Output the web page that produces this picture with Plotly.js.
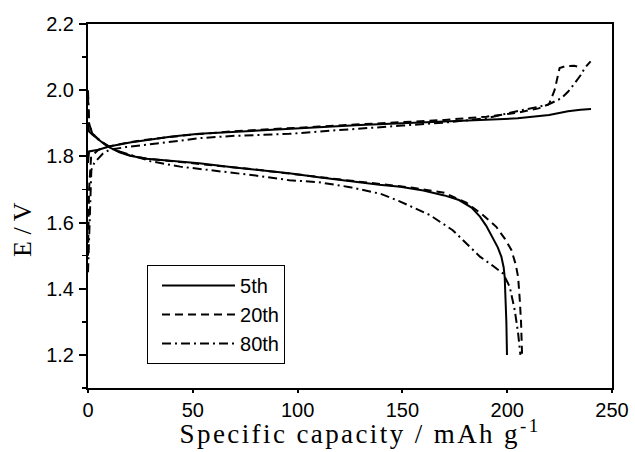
<!DOCTYPE html>
<html>
<head>
<meta charset="utf-8">
<script src="https://cdn.plot.ly/plotly-3.0.1.min.js"></script>
<style>
html, body { margin: 0; padding: 0; background: #fff; }
#chart { width: 635px; height: 452px; }
g.annotation[data-index="0"] text { letter-spacing: 2.4px; }
</style>
</head>
<body>
<div id="chart"></div>
<script>
// Series names
var seriesNames = ["5th", "20th", "80th"];

// 5th cycle: discharge then charge (null separates the two branches)
var cap5Discharge = [0, 0.5, 2, 5, 8, 11, 15, 20, 28, 35, 44, 53, 70, 85, 96, 110, 125, 139, 149, 160, 170, 177, 183, 187, 190, 193, 195.5, 197.2, 198.3, 198.8, 199.3, 199.6, 199.9];
var volt5Discharge = [1.90, 1.875, 1.866, 1.85, 1.836, 1.825, 1.812, 1.802, 1.793, 1.789, 1.784, 1.779, 1.766, 1.756, 1.749, 1.737, 1.724, 1.714, 1.708, 1.697, 1.682, 1.668, 1.645, 1.618, 1.59, 1.557, 1.525, 1.497, 1.465, 1.436, 1.366, 1.30, 1.20];
var cap5Charge = [0, 0.5, 5, 10, 20, 28, 40, 53, 70, 90, 108, 130, 150, 170, 188, 205, 220, 229, 235, 240];
var volt5Charge = [1.78, 1.815, 1.82, 1.83, 1.842, 1.85, 1.86, 1.868, 1.874, 1.882, 1.888, 1.895, 1.90, 1.905, 1.91, 1.915, 1.925, 1.936, 1.941, 1.943];

// 20th cycle
var cap20Discharge = [0, 0.5, 2, 5, 10, 15, 20, 28, 44, 60, 80, 100, 120, 140, 155, 170, 180.5, 188, 194.8, 199, 202, 204, 205.2, 206, 206.6, 207.1];
var volt20Discharge = [1.98, 1.90, 1.87, 1.852, 1.828, 1.814, 1.803, 1.793, 1.783, 1.773, 1.76, 1.745, 1.73, 1.715, 1.705, 1.69, 1.66, 1.625, 1.587, 1.55, 1.517, 1.475, 1.436, 1.366, 1.30, 1.20];
var cap20Charge = [0, 0.5, 1.5, 5, 10, 20, 30, 50, 70, 90, 110, 130, 150, 170, 190, 205, 215, 220, 222.6, 224, 225, 228, 232, 235.4];
var volt20Charge = [1.50, 1.70, 1.80, 1.82, 1.83, 1.843, 1.852, 1.866, 1.876, 1.884, 1.89, 1.897, 1.903, 1.91, 1.92, 1.932, 1.945, 1.958, 2.00, 2.04, 2.067, 2.073, 2.074, 2.068];

// 80th cycle
var cap80Discharge = [0, 0.5, 2, 5, 10, 15, 20, 30, 44, 60, 80, 96, 110, 125, 140, 148.7, 163, 174, 187, 193, 198, 201.2, 203.6, 205.2, 206.3];
var volt80Discharge = [2.00, 1.90, 1.87, 1.85, 1.83, 1.815, 1.805, 1.785, 1.769, 1.758, 1.742, 1.728, 1.722, 1.707, 1.686, 1.664, 1.623, 1.577, 1.497, 1.47, 1.446, 1.406, 1.335, 1.266, 1.20];
var cap80Charge = [0, 0.8, 1.6, 3, 4.8, 7, 10.4, 18, 27.8, 40, 53.3, 70, 96, 110, 130, 150, 170, 190, 203.6, 212, 219.4, 225.9, 229, 232.2, 235, 237, 239.8];
var volt80Charge = [1.45, 1.62, 1.759, 1.78, 1.794, 1.808, 1.82, 1.828, 1.835, 1.845, 1.855, 1.862, 1.868, 1.875, 1.885, 1.893, 1.902, 1.915, 1.935, 1.945, 1.956, 1.976, 1.995, 2.021, 2.045, 2.067, 2.087];

// Axis ticks
var xTickVals = [0, 50, 100, 150, 200, 250];
var yTickVals = [1.2, 1.4, 1.6, 1.8, 2.0, 2.2];
var yTickText = ["1.2", "1.4", "1.6", "1.8", "2.0", "2.2"];

function join(a, b) { return a.concat([null], b); }

var dashes = ["solid", "8px,5px", "9px,4px,2px,4px"];
var xs = [join(cap5Discharge, cap5Charge), join(cap20Discharge, cap20Charge), join(cap80Discharge, cap80Charge)];
var ys = [join(volt5Discharge, volt5Charge), join(volt20Discharge, volt20Charge), join(volt80Discharge, volt80Charge)];

var traces = seriesNames.map(function (n, i) {
  return {
    x: xs[i], y: ys[i], name: n, type: "scatter", mode: "lines",
    connectgaps: false,
    line: { color: "#000", width: 2, dash: dashes[i] }
  };
});

var tickFont = { family: "Liberation Sans, Arial, sans-serif", size: 20, color: "#000" };

var layout = {
  width: 635, height: 452,
  margin: { l: 88, r: 23, t: 24, b: 64, pad: 0 },
  paper_bgcolor: "#fff", plot_bgcolor: "#fff",
  showlegend: true,
  legend: {
    x: 0.1126, y: 0.338, xanchor: "left", yanchor: "top",
    bgcolor: "#fff", bordercolor: "#000", borderwidth: 1,
    font: { family: "Liberation Sans, Arial, sans-serif", size: 20, color: "#000" },
    tracegroupgap: 0, itemwidth: 73, indentation: 9
  },
  xaxis: {
    range: [0, 250], tickvals: xTickVals, ticks: "outside", ticklen: 3, tickwidth: 2,
    tickcolor: "#000", showline: true, linecolor: "#000", linewidth: 2, mirror: true,
    showgrid: false, zeroline: false, tickfont: tickFont
  },
  xaxis2: {
    overlaying: "x", anchor: "y", side: "bottom",
    range: [0, 250], tickvals: xTickVals, ticks: "outside", ticklen: 7, tickwidth: 2,
    tickcolor: "#000", showline: false, showticklabels: false,
    showgrid: false, zeroline: false,
    minor: { dtick: 25, ticks: "outside", ticklen: 4, tickwidth: 1.5, tickcolor: "#000", showgrid: false }
  },
  yaxis: {
    range: [1.1, 2.2], tickvals: yTickVals, ticktext: yTickText, ticks: "outside", ticklen: 7, tickwidth: 2,
    tickcolor: "#000", showline: true, linecolor: "#000", linewidth: 2, mirror: true,
    showgrid: false, zeroline: false, tickfont: tickFont, ticklabelstandoff: 1,
    minor: { tickvals: [1.1, 1.3, 1.5, 1.7, 1.9, 2.1], ticks: "outside", ticklen: 4, tickwidth: 1.5, tickcolor: "#000", showgrid: false }
  },
  annotations: [
    {
      text: "Specific capacity / mAh g<sup>-1</sup>", xref: "paper", yref: "paper",
      x: (360 - 88) / 524, y: (388 - 431.5) / 364, xanchor: "center", yanchor: "middle",
      showarrow: false, font: { family: "Liberation Serif, Times New Roman, serif", size: 27, color: "#000" }
    },
    {
      text: "E / V", xref: "paper", yref: "paper", textangle: -90,
      x: (22 - 88) / 524, y: (388 - 230) / 364, xanchor: "center", yanchor: "middle",
      showarrow: false, font: { family: "Liberation Serif, Times New Roman, serif", size: 26, color: "#000" }
    }
  ]
};

Plotly.newPlot("chart", traces, layout, { displayModeBar: false, staticPlot: true });
</script>
</body>
</html>
